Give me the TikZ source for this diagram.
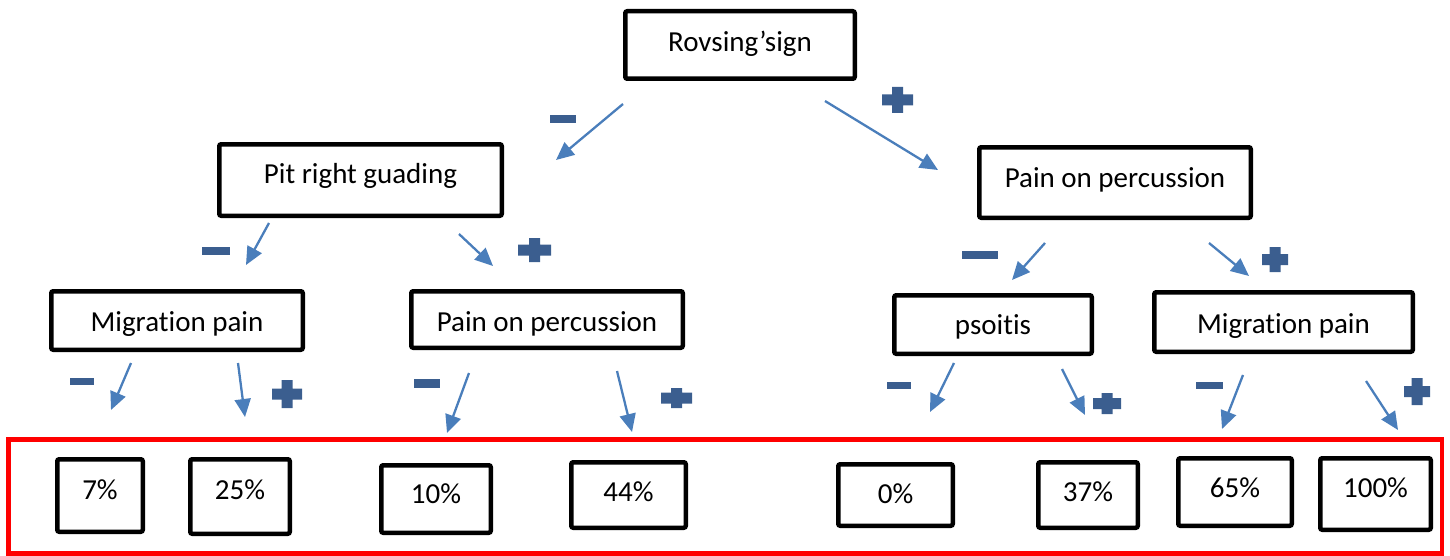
\documentclass[tikz,border=0pt]{standalone}
\usepackage{fontspec}
\setmainfont{Carlito}[Ligatures=NoCommon]
\usetikzlibrary{arrows.meta}
\definecolor{arrowblue}{HTML}{4A7EBB}
\definecolor{signblue}{HTML}{3B5E8F}
\tikzset{
  box/.style={draw=black, line width=2.25pt, rounded corners=1pt, fill=white,
    inner sep=0pt, align=center, font=\fontsize{14.5}{17}\selectfont, text depth=0pt},
  tb/.style={text height=#1},
  conn/.style={draw=arrowblue, line width=1.15pt, -{Triangle[length=9pt,width=8pt]}},
  sign/.style={fill=signblue},
  frame/.style={draw=red, line width=2.2pt}
}
\newcommand{\plusat}[4]{%
  \begin{scope}[shift={(#1,#2)}]
    \fill[sign] (-#3/2,-5.5) -- (-5.5,-5.5) -- (-5.5,-#4/2) -- (5.5,-#4/2) -- (5.5,-5.5) -- (#3/2,-5.5)
      -- (#3/2,5.5) -- (5.5,5.5) -- (5.5,#4/2) -- (-5.5,#4/2) -- (-5.5,5.5) -- (-#3/2,5.5) -- cycle;
  \end{scope}}
\begin{document}
\begin{tikzpicture}[x=0.5pt,y=-0.5pt]
\useasboundingbox (0,0) rectangle (1450,556);

% red frame round the results
\draw[frame] (8.5,439.5) rectangle (1442,553.5);

% decision boxes
\node[box, tb=7pt,    minimum width=114.75pt, minimum height=33.75pt] (rov)  at (740,45)     {Rovsing’sign};
\node[box, tb=3pt,    minimum width=141.25pt, minimum height=35.75pt] (pit)  at (360.5,180)  {Pit right guading};
\node[box, tb=4.5pt,  minimum width=135.75pt, minimum height=35.25pt] (popR) at (1115,182.5) {Pain on percussion};
\node[box, tb=10.5pt, minimum width=125.75pt, minimum height=29.25pt] (migL) at (177,320.5)  {Migration pain};
\node[box, tb=11.5pt, minimum width=135.75pt, minimum height=28.25pt] (popM) at (547,319.5)  {Pain on percussion};
\node[box, tb=9.5pt,  minimum width=98.75pt,  minimum height=29.25pt] (pso)  at (993,324.5)  {psoitis};
\node[box, tb=11pt,   minimum width=129.25pt, minimum height=29.75pt] (migR) at (1283.5,322) {Migration pain};

% result boxes
\node[box, tb=3.5pt, minimum width=42.75pt, minimum height=36.25pt] (r7)   at (100,495.5)  {7\%};
\node[box, tb=2.5pt, minimum width=49.75pt, minimum height=37.25pt] (r25)  at (240,496.5)  {25\%};
\node[box, tb=4pt,   minimum width=54.75pt, minimum height=33.75pt] (r10)  at (436,499)    {10\%};
\node[box, tb=6pt,   minimum width=57.25pt, minimum height=32.75pt] (r44)  at (628.5,495)  {44\%};
\node[box, tb=8pt,   minimum width=57.25pt, minimum height=30.75pt] (r0)   at (895.5,495)  {0\%};
\node[box, tb=6pt,   minimum width=49.75pt, minimum height=32.75pt] (r37)  at (1088,495)   {37\%};
\node[box, tb=5pt,   minimum width=56.75pt, minimum height=33.75pt] (r65)  at (1235,492)   {65\%};
\node[box, tb=3pt,   minimum width=55.25pt, minimum height=35.75pt] (r100) at (1375.5,494) {100\%};

% arrow end points
\coordinate (a1s) at (623,104);  \coordinate (a1e) at (556,160);
\coordinate (a2s) at (825,101);  \coordinate (a2e) at (938,170);
\coordinate (a3s) at (269,223);  \coordinate (a3e) at (246,265);
\coordinate (a4s) at (459,234);  \coordinate (a4e) at (493,266);
\coordinate (a5s) at (1045,243); \coordinate (a5e) at (1012,280);
\coordinate (a6s) at (1209,243); \coordinate (a6e) at (1249,276);
\coordinate (a7s) at (131,363);  \coordinate (a7e) at (111,410);
\coordinate (a8s) at (238,363);  \coordinate (a8e) at (245,417);
\coordinate (a9s) at (469,373);  \coordinate (a9e) at (447,433);
\coordinate (a10s) at (617,371); \coordinate (a10e) at (632,432);
\coordinate (a11s) at (954,363); \coordinate (a11e) at (930,412);
\coordinate (a12s) at (1062,369); \coordinate (a12e) at (1085,415);
\coordinate (a13s) at (1243,375); \coordinate (a13e) at (1222,429);
\coordinate (a14s) at (1366,381); \coordinate (a14e) at (1398,430);

\foreach \i in {1,...,14} { \draw[conn] (a\i s) -- (a\i e); }

% minus signs
\fill[sign] (550,115) rectangle (576,123);
\fill[sign] (202,247) rectangle (230,255);
\fill[sign] (70,378) rectangle (94,385);
\fill[sign] (414,379) rectangle (440,388);
\fill[sign] (962,251) rectangle (998,259);
\fill[sign] (887,382) rectangle (911,389);
\fill[sign] (1196,382) rectangle (1223,389);

% plus signs
\plusat{897.5}{100}{31}{26}
\plusat{534.5}{250}{33}{24}
\plusat{287}{394}{30}{28}
\plusat{676.5}{398}{31}{20}
\plusat{1275}{259.5}{26}{25}
\plusat{1107}{403.5}{28}{21}
\plusat{1417}{391.5}{26}{27}
\end{tikzpicture}
\end{document}
